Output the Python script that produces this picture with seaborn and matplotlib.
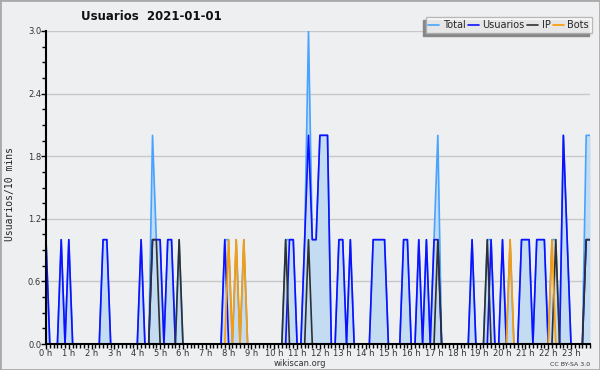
import numpy as np
import pandas as pd
import seaborn as sns
import matplotlib
matplotlib.use("Agg")
import matplotlib.pyplot as plt
from matplotlib.ticker import MultipleLocator
from matplotlib.lines import Line2D
from matplotlib.patches import Rectangle

# Usuarios activos cada 10 minutos (una fila = una hora, 6 intervalos)
total = [
    1, 0, 0, 0, 1, 0,   1, 0, 0, 0, 0, 0,   0, 0, 0, 1, 1, 0,   0, 0, 0, 0, 0, 0,
    0, 1, 0, 0, 2, 1,   1, 0, 1, 1, 0, 1,   0, 0, 0, 0, 0, 0,   0, 0, 0, 0, 0, 1,
    1, 0, 1, 0, 1, 0,   0, 0, 0, 0, 0, 0,   0, 0, 0, 1, 1, 1,   0, 0, 1, 3, 1, 1,
    2, 2, 2, 0, 0, 1,   1, 0, 1, 0, 0, 0,   0, 0, 1, 1, 1, 1,   0, 0, 0, 0, 1, 1,
    0, 0, 1, 0, 1, 0,   1, 2, 0, 0, 0, 0,   0, 0, 0, 0, 1, 0,   0, 0, 1, 1, 0, 0,
    1, 0, 1, 0, 0, 1,   1, 1, 0, 1, 1, 1,   0, 1, 1, 0, 2, 1,   0, 0, 0, 0, 2, 2,
]
usuarios = [
    1, 0, 0, 0, 1, 0,   1, 0, 0, 0, 0, 0,   0, 0, 0, 1, 1, 0,   0, 0, 0, 0, 0, 0,
    0, 1, 0, 0, 1, 1,   1, 0, 1, 1, 0, 0,   0, 0, 0, 0, 0, 0,   0, 0, 0, 0, 0, 1,
    0, 0, 0, 0, 0, 0,   0, 0, 0, 0, 0, 0,   0, 0, 0, 0, 1, 1,   0, 0, 1, 2, 1, 1,
    2, 2, 2, 0, 0, 1,   1, 0, 1, 0, 0, 0,   0, 0, 1, 1, 1, 1,   0, 0, 0, 0, 1, 1,
    0, 0, 1, 0, 1, 0,   1, 1, 0, 0, 0, 0,   0, 0, 0, 0, 1, 0,   0, 0, 0, 1, 0, 0,
    1, 0, 0, 0, 0, 1,   1, 1, 0, 1, 1, 1,   0, 0, 0, 0, 2, 1,   0, 0, 0, 0, 1, 1,
]
ip = [
    0, 0, 0, 0, 0, 0,   0, 0, 0, 0, 0, 0,   0, 0, 0, 0, 0, 0,   0, 0, 0, 0, 0, 0,
    0, 0, 0, 0, 1, 1,   0, 0, 0, 0, 0, 1,   0, 0, 0, 0, 0, 0,   0, 0, 0, 0, 0, 0,
    0, 0, 0, 0, 0, 0,   0, 0, 0, 0, 0, 0,   0, 0, 0, 1, 0, 0,   0, 0, 0, 1, 0, 0,
    0, 0, 0, 0, 0, 0,   0, 0, 0, 0, 0, 0,   0, 0, 0, 0, 0, 0,   0, 0, 0, 0, 0, 0,
    0, 0, 0, 0, 0, 0,   0, 1, 0, 0, 0, 0,   0, 0, 0, 0, 0, 0,   0, 0, 1, 0, 0, 0,
    0, 0, 0, 0, 0, 0,   0, 0, 0, 0, 0, 0,   0, 0, 1, 0, 0, 0,   0, 0, 0, 0, 1, 1,
]
bots = [
    0, 0, 0, 0, 0, 0,   0, 0, 0, 0, 0, 0,   0, 0, 0, 0, 0, 0,   0, 0, 0, 0, 0, 0,
    0, 0, 0, 0, 0, 0,   0, 0, 0, 0, 0, 0,   0, 0, 0, 0, 0, 0,   0, 0, 0, 0, 0, 0,
    1, 0, 1, 0, 1, 0,   0, 0, 0, 0, 0, 0,   0, 0, 0, 0, 0, 0,   0, 0, 0, 0, 0, 0,
    0, 0, 0, 0, 0, 0,   0, 0, 0, 0, 0, 0,   0, 0, 0, 0, 0, 0,   0, 0, 0, 0, 0, 0,
    0, 0, 0, 0, 0, 0,   0, 0, 0, 0, 0, 0,   0, 0, 0, 0, 0, 0,   0, 0, 0, 0, 0, 0,
    0, 0, 1, 0, 0, 0,   0, 0, 0, 0, 0, 0,   0, 1, 0, 0, 0, 0,   0, 0, 0, 0, 0, 0,
]
series = ["Total", "Usuarios", "IP", "Bots"]
colores = {"Total": "#47a3ff", "Usuarios": "#1010ff", "IP": "#303030", "Bots": "#ff9a00"}
horas = [f"{h} h" for h in range(24)]

fondo = "#eeeff1"
sns.set_theme(style="white", rc={"axes.facecolor": fondo, "figure.facecolor": fondo})
plt.rcParams["font.family"] = ["DejaVu Sans"]

t = np.arange(len(total)) / 6.0  # hora de cada intervalo de 10 min
df = pd.DataFrame({"hora": t, "Total": total, "Usuarios": usuarios, "IP": ip, "Bots": bots})
largo = df.melt(id_vars="hora", value_vars=series, var_name="serie", value_name="valor")

fig = plt.figure(figsize=(6, 3.7), dpi=100)
ax = fig.add_axes([46 / 600, 1 - 344 / 370, 544 / 600, 313 / 370])

ax.fill_between(df["hora"], df["Total"], color="#c4dcf1", zorder=1, linewidth=0)
sns.lineplot(data=largo, x="hora", y="valor", hue="serie", hue_order=series,
             palette=colores, linewidth=1.2, legend=False, ax=ax, zorder=2)

ax.set_xlim(0, t[-1])
ax.set_ylim(0, 3.0)
ax.set_xticks(range(24))
ax.set_xticklabels(horas)
ax.xaxis.set_minor_locator(MultipleLocator(1 / 6))
ax.set_yticks(np.arange(0, 3.01, 0.6))
ax.set_yticklabels([f"{v:.1f}" for v in np.arange(0, 3.01, 0.6)])
ax.yaxis.set_minor_locator(MultipleLocator(0.15))
ax.tick_params(which="both", direction="out", color="black", width=1,
               labelsize=6, labelcolor="#333333", pad=0)
ax.tick_params(which="major", length=3.5)
ax.tick_params(which="minor", length=3)
ax.tick_params(axis="x", which="both", bottom=True)
ax.tick_params(axis="y", which="both", left=True)
ax.grid(axis="y", color="#c8c8c8", linewidth=1)
ax.set_axisbelow(True)
for s in ["top", "right"]:
    ax.spines[s].set_visible(False)
for s in ["left", "bottom"]:
    ax.spines[s].set_color("black")
    ax.spines[s].set_linewidth(1.5)
ax.set_xlabel("")
ax.set_ylabel("")

fig.text(151 / 600, 1 - 17 / 370, "Usuarios  2021-01-01", ha="center", va="center",
         fontsize=8.5, fontweight="bold", color="#111111")
fig.text(10 / 600, 1 - 194 / 370, "Usuarios/10 mins", rotation=90, ha="center",
         va="center", fontsize=7, family="DejaVu Sans Mono", color="#222222")
fig.text(300 / 600, 1 - 364 / 370, "wikiscan.org", ha="center", va="center",
         fontsize=6, color="#333333")
fig.text(590 / 600, 1 - 364 / 370, "CC BY-SA 3.0", ha="right", va="center",
         fontsize=4.5, color="#333333")

handles = [Line2D([], [], color=colores[s], linewidth=1.2) for s in series]
leg = fig.legend(handles, series, loc="upper right", bbox_to_anchor=(592 / 600, 1 - 17 / 370),
                 ncol=4, fontsize=7, frameon=True, fancybox=False, borderaxespad=0,
                 handlelength=1.1, handletextpad=0.35, columnspacing=0.3,
                 borderpad=0.3)
leg.get_frame().set_edgecolor("#aaaaaa")
leg.get_frame().set_facecolor("white")
leg.get_frame().set_linewidth(1)
leg.set_zorder(5)

# sombra de la leyenda hacia abajo a la izquierda
fig.canvas.draw()
bb = leg.get_window_extent().transformed(fig.transFigure.inverted())
fig.add_artist(Rectangle((bb.x0 - 3 / 600, bb.y0 - 3 / 370), bb.width, bb.height,
                         transform=fig.transFigure, color="#888888", zorder=4))

fig.add_artist(Rectangle((0, 0), 1, 1, transform=fig.transFigure, fill=False,
                         edgecolor="#aaaaaa", linewidth=2, zorder=10))

fig.savefig("out.png", dpi=100)
